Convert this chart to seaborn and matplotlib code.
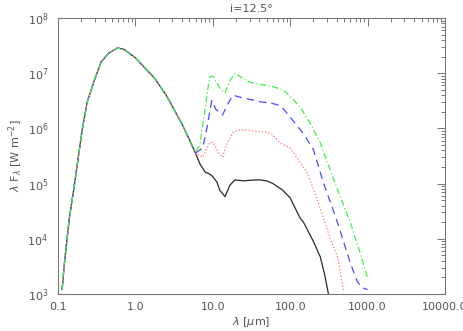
import numpy as np
import pandas as pd
import matplotlib
matplotlib.use('Agg')
import matplotlib.pyplot as plt
import seaborn as sns
from matplotlib.ticker import LogLocator, FixedLocator, FixedFormatter, NullFormatter

# stellar photosphere (shared by all curves)
lam_star = [0.113, 0.12, 0.139, 0.16, 0.205, 0.238, 0.30, 0.36, 0.45, 0.58, 0.70, 1.0, 1.77, 2.5, 4.0, 5.0]
f_star = [1.2e3, 3.2e3, 2.2e4, 8.0e4, 9.3e5, 3.0e6, 8.0e6, 1.6e7, 2.3e7, 2.85e7, 2.75e7, 1.9e7, 8.1e6, 4.0e6, 1.2e6, 6.2e5]

# infrared tails
lam_black = [6.0, 6.8, 8.0, 8.6, 9.7, 11.3, 12.3, 14.4, 16.6, 19.3, 25, 30, 40, 50, 60, 80, 100, 134, 150, 200, 245, 280, 312]
f_black = [3.5e5, 2.3e5, 1.6e5, 1.55e5, 1.4e5, 1.07e5, 7.6e4, 5.8e4, 9.3e4, 1.17e5, 1.12e5, 1.15e5, 1.17e5, 1.12e5, 1.0e5, 7.6e4, 5.5e4, 2.4e4, 1.95e4, 8.9e3, 4.7e3, 2.2e3, 1.0e3]

lam_red = [6.0, 7.4, 8.5, 9.1, 10.0, 11.0, 12.0, 13.4, 15.0, 18.2, 22, 27.6, 35, 50, 60, 74, 100, 130, 166, 200, 255, 330, 410, 490]
f_red = [3.5e5, 3.0e5, 4.5e5, 5.5e5, 5.6e5, 4.5e5, 3.5e5, 3.0e5, 5.0e5, 8.5e5, 9.3e5, 9.3e5, 8.9e5, 8.5e5, 7.6e5, 5.5e5, 4.4e5, 2.6e5, 1.55e5, 7.9e4, 3.0e4, 1.0e4, 4.7e3, 1.1e3]

lam_blue = [6.0, 7.4, 8.3, 9.7, 11.0, 13.4, 15.0, 18.2, 22, 26, 35, 43, 55, 74, 81, 108, 150, 200, 270, 312, 410, 600, 740, 850, 1000]
f_blue = [3.6e5, 4.4e5, 9.3e5, 3.2e6, 2.2e6, 1.75e6, 2.5e6, 4.0e6, 3.7e6, 3.5e6, 3.2e6, 3.0e6, 2.9e6, 2.6e6, 2.3e6, 1.4e6, 7.9e5, 4.1e5, 1.02e5, 5.8e4, 1.95e4, 3.6e3, 1.66e3, 1.3e3, 1.2e3]

lam_green = [6.0, 6.8, 7.4, 7.9, 8.6, 9.1, 10.0, 11.0, 12.5, 14.4, 16.5, 19.3, 22, 26, 30, 43, 55, 81, 100, 134, 180, 245, 300, 380, 600, 800, 1000]
f_green = [3.8e5, 5.0e5, 1.15e6, 2.1e6, 5.0e6, 8.5e6, 8.9e6, 7.1e6, 5.2e6, 4.4e6, 7.1e6, 1.0e7, 8.9e6, 7.6e6, 6.9e6, 6.2e6, 5.9e6, 5.0e6, 3.8e6, 2.45e6, 1.26e6, 5.5e5, 2.5e5, 1.02e5, 1.95e4, 5.6e3, 1.95e3]

xtick_vals = [0.1, 1.0, 10.0, 100.0, 1000.0, 10000.0]
xtick_labels = ['0.1', '1.0', '10.0', '100.0', '1000.0', '10000.0']

sns.set_style('white')
plt.rcParams['font.family'] = ['DejaVu Sans']

fig = plt.figure(figsize=(4.63, 3.31), dpi=100)
ax = fig.add_axes([0.1253, 0.1118, 0.8357, 0.8338])

curves = [
    (lam_black, f_black, '#2a2a2a', '-'),
    (lam_red, f_red, '#ff7070', ':'),
    (lam_blue, f_blue, '#4a4aff', (0, (6, 4))),
    (lam_green, f_green, '#44ee44', (0, (5, 2, 1, 2))),
]
for lam_tail, f_tail, col, ls in curves:
    df = pd.DataFrame({'lam': lam_star + lam_tail, 'flux': f_star + f_tail})
    sns.lineplot(data=df, x='lam', y='flux', ax=ax, color=col, linestyle=ls,
                 linewidth=0.9, sort=False)

ax.set_xscale('log')
ax.set_yscale('log')
ax.set_xlim(0.1, 1e4)
ax.set_ylim(1e3, 1e8)

axcol = '#777777'
for sp in ax.spines.values():
    sp.set_color(axcol)
    sp.set_linewidth(0.8)

ax.xaxis.set_major_locator(FixedLocator(xtick_vals))
ax.xaxis.set_major_formatter(FixedFormatter(xtick_labels))
ax.xaxis.set_minor_locator(LogLocator(base=10, subs=np.arange(2, 10), numticks=20))
ax.xaxis.set_minor_formatter(NullFormatter())
ax.yaxis.set_major_locator(LogLocator(base=10, numticks=10))
ax.yaxis.set_minor_locator(LogLocator(base=10, subs=np.arange(2, 10), numticks=20))
ax.yaxis.set_minor_formatter(NullFormatter())

ax.tick_params(which='both', direction='in', top=True, right=True, color=axcol,
               labelcolor='#555555', labelsize=8, width=0.7)
ax.tick_params(which='major', length=6)
ax.tick_params(axis='x', which='major', pad=6)
ax.tick_params(axis='y', which='major', pad=7)
ax.tick_params(which='minor', length=3)

ax.set_xlabel(r'$\lambda$ [$\mu$m]', color='#555555', fontsize=8, labelpad=2)
ax.set_ylabel(r'$\lambda$ F$_\lambda$ [W m$^{-2}$]', color='#555555', fontsize=8, labelpad=2)
ax.set_title('i=12.5°', color='#555555', fontsize=8, pad=4)

fig.savefig('out.png', dpi=100)
